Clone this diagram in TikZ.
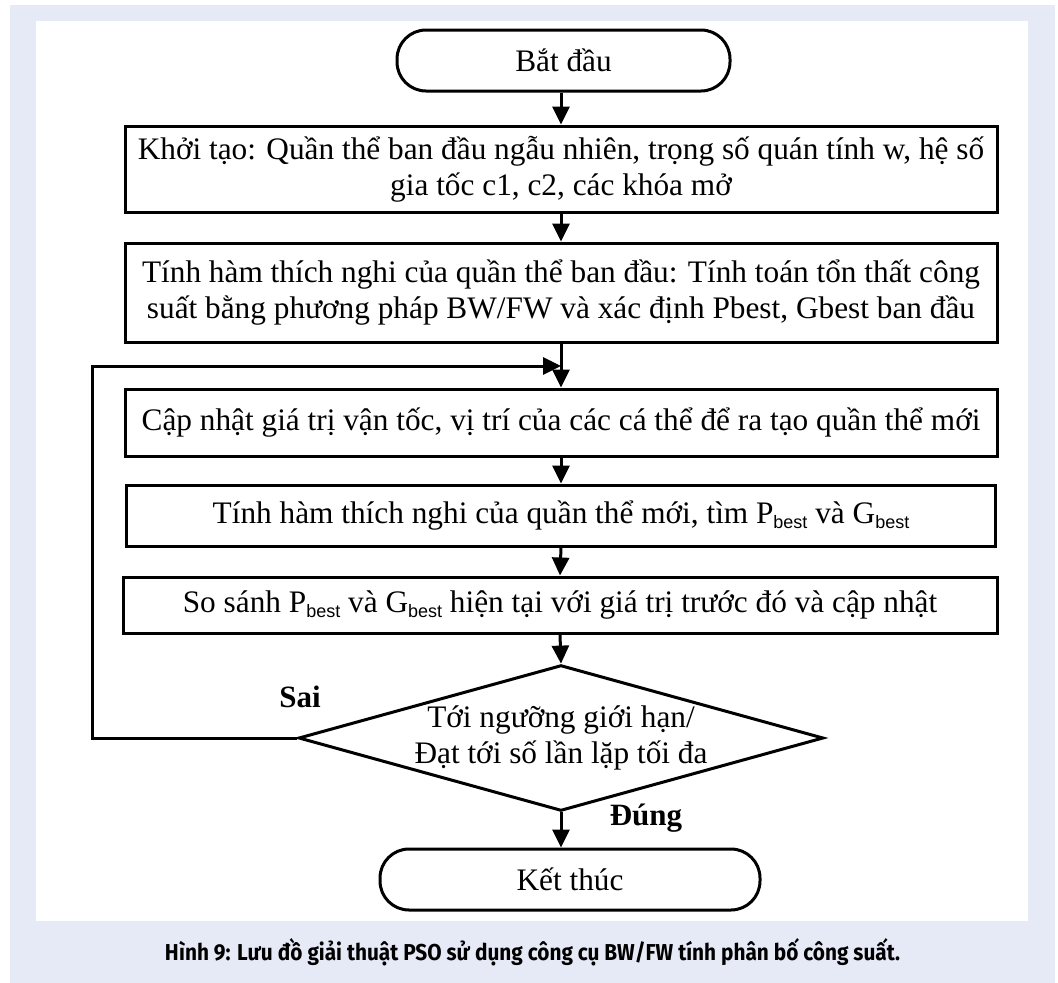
\documentclass[tikz,border=0pt]{standalone}
\usepackage{fontspec}
\usepackage{graphicx}
\usetikzlibrary{arrows.meta,shapes.geometric}
\setmainfont{Liberation Serif}
\newfontfamily\arialfont{Liberation Sans}
\newfontfamily\capfont{Fira Sans}
\definecolor{pagebg}{RGB}{230,234,246}
\newcommand{\sbest}{\raisebox{-5pt}{\arialfont\fontsize{18}{18}\selectfont best}}
\tikzset{
  every node/.style={font=\fontsize{31.3}{36}\selectfont, text=black},
  procbox/.style={draw, line width=3pt, rectangle, inner sep=0pt, align=center},
  termbox/.style={draw, line width=3pt, rectangle, rounded corners=29pt, inner sep=0pt},
  decbox/.style={draw, line width=3pt, diamond, aspect=3.6, inner sep=0pt, align=center},
  arr/.style={line width=3pt, -{Triangle[length=18pt,width=17pt]}},
  lbl/.style={font=\fontsize{31}{32}\selectfont\bfseries}
}
\begin{document}
\begin{tikzpicture}[x=1pt,y=-1pt]
\useasboundingbox (0,0) rectangle (1058,983);
\fill[pagebg] (10,5) rectangle (1055,983);
\fill[white] (36,21) rectangle (1028,921);

\node[termbox, minimum width=333pt, minimum height=61pt] (start) at (563.5,60.5) {Bắt đầu};
\node[procbox, minimum width=872pt, minimum height=86pt] (b1) at (561,169)
  {Khởi tạo: Quần thể ban đầu ngẫu nhiên, trọng số quán tính w, hệ số\\gia tốc c1, c2, các khóa mở};
\node[procbox, minimum width=872pt, minimum height=99pt] (b2) at (561,292.5)
  {Tính hàm thích nghi của quần thể ban đầu: Tính toán tổn thất công\\suất bằng phương pháp BW/FW và xác định Pbest, Gbest ban đầu};
\node[procbox, minimum width=872pt, minimum height=67pt] (b3) at (561,422.5)
  {Cập nhật giá trị vận tốc, vị trí của các cá thể để ra tạo quần thể mới};
\node[procbox, minimum width=869pt, minimum height=61pt] (b4) at (561,515.5)
  {Tính hàm thích nghi của quần thể mới, tìm P\sbest{} và G\sbest};
\node[procbox, minimum width=874pt, minimum height=56pt] (b5) at (560,605)
  {So sánh P\sbest{} và G\sbest{} hiện tại với giá trị trước đó và cập nhật};
\node[decbox, minimum width=520pt, minimum height=144pt] (d) at (561,738)
  {Tới ngưỡng giới hạn/\\Đạt tới số lần lặp tối đa};
\node[termbox, minimum width=380pt, minimum height=61pt] (end) at (570,879.5) {Kết thúc};

\coordinate (m) at (561,366);
\coordinate (lc) at (92,366);

\draw[arr] (b1.north |- start.south) -- (b1.north);
\draw[arr] (b1.south) -- (b2.north);
\draw[arr] (b2.south) -- (b3.north);
\draw[arr] (b3.south) -- (b4.north);
\draw[arr] (b4.south) -- (b5.north);
\draw[arr] (b5.south) -- (d.north);
\draw[arr] (d.south) -- (d.south |- end.north);
\draw[arr] (d.west) -| (lc) -- (m);

\node[lbl] (sai) at (300,697) {Sai};
\node[lbl] (dung) at (646,818) {Đúng};

\node (cap) at (532.5,952) {\resizebox{735pt}{\height}{\capfont\bfseries\fontsize{23}{26}\selectfont Hình 9: Lưu đồ giải thuật PSO sử dụng công cụ BW/FW tính phân bố công suất.}};
\end{tikzpicture}
\end{document}
